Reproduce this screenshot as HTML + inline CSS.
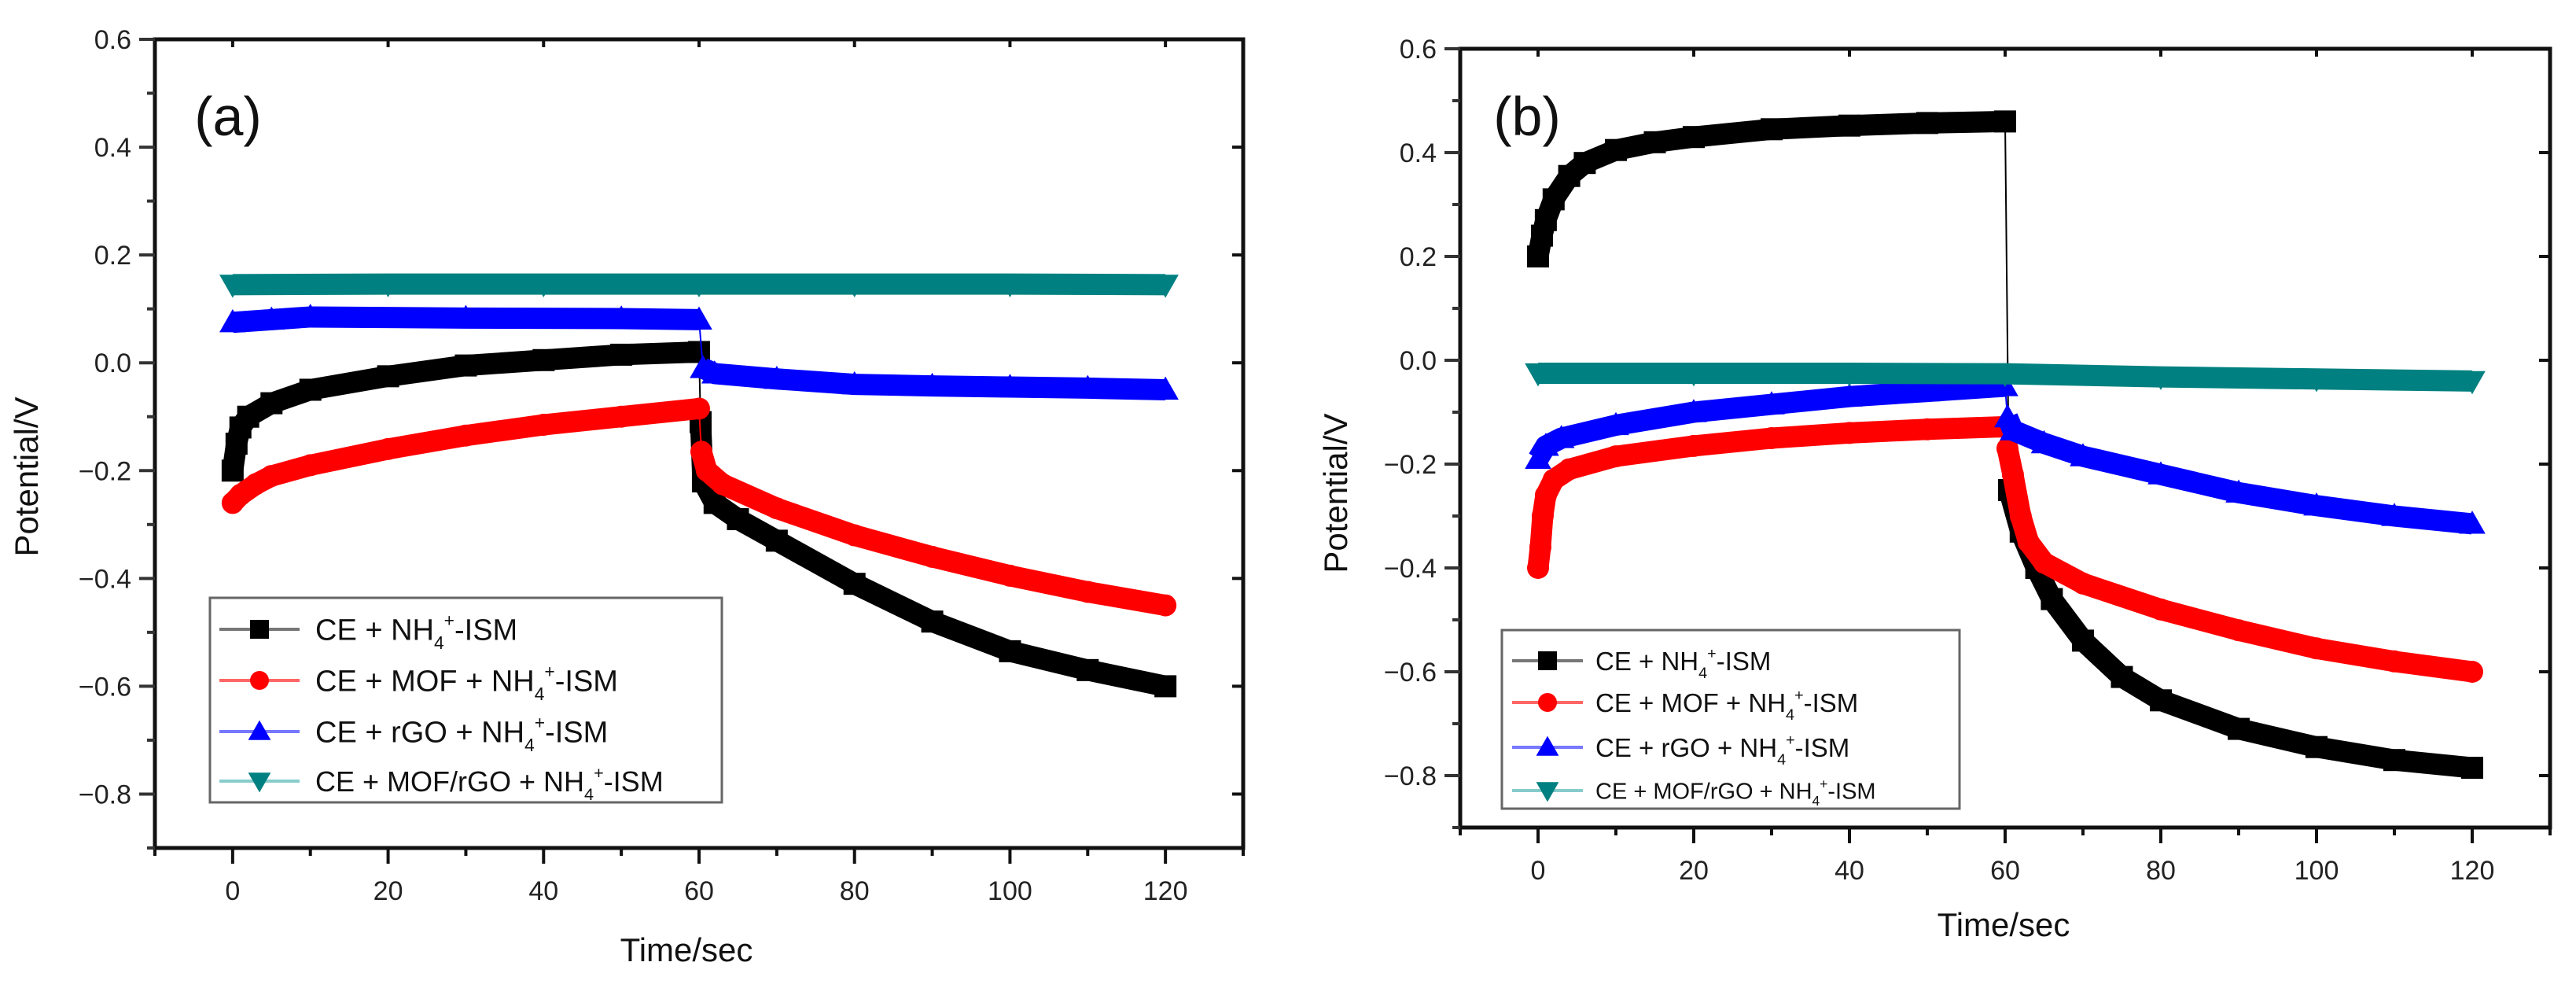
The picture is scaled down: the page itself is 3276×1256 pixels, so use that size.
<!DOCTYPE html>
<html><head><meta charset="utf-8"><style>
html,body{margin:0;padding:0;background:#fff;}
svg{display:block;font-family:"Liberation Sans",Arial,sans-serif;}
</style></head><body>
<svg id="fig" width="3276" height="1256" viewBox="0 0 3276 1256" xmlns="http://www.w3.org/2000/svg"></svg>
<script>
// ---------- data ----------
const xTicks = [0,20,40,60,80,100,120];
const yTicks = [0.6,0.4,0.2,0.0,-0.2,-0.4,-0.6,-0.8];
const yTickLabels = ["0.6","0.4","0.2","0.0","\u22120.2","\u22120.4","\u22120.6","\u22120.8"];
const seriesNames = ["CE + NH4+-ISM","CE + MOF + NH4+-ISM","CE + rGO + NH4+-ISM","CE + MOF/rGO + NH4+-ISM"];

// panel (a)
const aBlackT = [0,0.5,1,2,5,10,20,30,40,50,60,60.2,60.5,62,65,70,80,90,100,110,120];
const aBlackV = [-0.20,-0.15,-0.12,-0.10,-0.075,-0.05,-0.025,-0.005,0.005,0.015,0.02,-0.11,-0.22,-0.26,-0.29,-0.33,-0.41,-0.48,-0.535,-0.57,-0.60];
const aRedT = [0,1,3,5,10,20,30,40,50,60,60.3,61,63,70,80,90,100,110,120];
const aRedV = [-0.26,-0.245,-0.225,-0.21,-0.19,-0.16,-0.135,-0.115,-0.10,-0.085,-0.165,-0.20,-0.225,-0.27,-0.32,-0.36,-0.395,-0.425,-0.45];
const aBlueT = [0,5,10,30,50,60,60.5,62,70,80,90,100,110,120];
const aBlueV = [0.075,0.08,0.085,0.083,0.082,0.08,-0.01,-0.02,-0.03,-0.04,-0.043,-0.045,-0.047,-0.05];
const aTealT = [0,20,40,60,80,100,120];
const aTealV = [0.145,0.146,0.146,0.146,0.146,0.146,0.145];

// panel (b)
const bBlackT = [0,0.5,1,2,4,6,10,15,20,30,40,50,60,60.5,62,64,66,70,75,80,90,100,110,120];
const bBlackV = [0.20,0.24,0.27,0.31,0.355,0.38,0.405,0.42,0.43,0.445,0.452,0.457,0.46,-0.25,-0.33,-0.40,-0.46,-0.54,-0.61,-0.655,-0.71,-0.745,-0.77,-0.785];
const bRedT = [0,0.3,0.6,1,2,4,10,20,30,40,50,60,60.3,61,62,63,65,70,80,90,100,110,120];
const bRedV = [-0.40,-0.36,-0.30,-0.26,-0.23,-0.21,-0.185,-0.165,-0.15,-0.14,-0.133,-0.128,-0.17,-0.22,-0.30,-0.35,-0.39,-0.43,-0.48,-0.52,-0.555,-0.58,-0.60];
const bBlueT = [0,1,3,10,20,30,40,50,60,60.3,61,65,70,80,90,100,110,120];
const bBlueV = [-0.19,-0.165,-0.15,-0.125,-0.10,-0.085,-0.07,-0.06,-0.05,-0.11,-0.135,-0.16,-0.185,-0.22,-0.255,-0.28,-0.30,-0.315];
const bTealT = [0,20,40,60,80,100,120];
const bTealV = [-0.025,-0.025,-0.025,-0.026,-0.032,-0.036,-0.04];

const NS = "http://www.w3.org/2000/svg";
const svg = document.getElementById('fig');
function mk(tag, attrs, parent){const e=document.createElementNS(NS,tag);for(const k in attrs)e.setAttribute(k,attrs[k]);(parent||svg).appendChild(e);return e;}

const colors = ["#000000","#ff0000","#0000ff","#008080"];
const lineColors = ["#777777","#ff6666","#7777ff","#88cccc"];
const kinds = ["square","circle","up","down"];

function marker(g,kind,x,y,s,c){
  let e;
  if(kind==="square") e=mk('rect',{x:x-s/2,y:y-s/2,width:s,height:s,fill:c},g);
  else if(kind==="circle") e=mk('circle',{cx:x,cy:y,r:s/2,fill:c},g);
  else if(kind==="up") e=mk('polygon',{points:`${x},${y-s*0.6} ${x-s*0.6},${y+s*0.45} ${x+s*0.6},${y+s*0.45}`,fill:c},g);
  else e=mk('polygon',{points:`${x},${y+s*0.6} ${x-s*0.6},${y-s*0.45} ${x+s*0.6},${y-s*0.45}`,fill:c},g);
  return e;
}

function labelText(parent,x,y,size,name){
  const t=mk('text',{x:x,y:y,'font-size':size,fill:'#111'},parent);
  const i=name.indexOf("NH4+");
  const pre=name.slice(0,i+2), post=name.slice(i+4);
  const a=mk('tspan',{},t);a.textContent=pre;
  const s=mk('tspan',{dy:size*0.3,'font-size':size*0.6},t);s.textContent="4";
  const p=mk('tspan',{dy:-size*0.75,'font-size':size*0.6},t);p.textContent="+";
  const r=mk('tspan',{dy:size*0.45},t);r.textContent=post;
  return t;
}

function panel(cfg){
  const {L,R,T,B,id,data,legend,tag,tagPos,ylabPos,xlabPos} = cfg;
  const g=mk('g',{});
  
  
  const xs=v=>L+(v+10)/140*(R-L);
  const ys=v=>T+(0.6-v)/1.5*(B-T);
  const sg=mk('g',{},g);
  
  
  data.forEach((d,si)=>{
    const [ts,vs]=d;
    const c=colors[si];
    const ser=mk('g',{},sg);
    
    
    mk('polyline',{points:ts.map((t,i)=>xs(t)+','+ys(vs[i])).join(' '),fill:'none',stroke:c,'stroke-width':2},ser);
    // thick band, split only at the step (jump just after 60 s)
    const segs=[[]];
    ts.forEach((t,i)=>{
      if(i>0 && ts[i-1]<=60 && t>60 && t<61) segs.push([]);
      segs[segs.length-1].push(xs(t)+','+ys(vs[i]));
    });
    segs.forEach(sgm=>{ if(sgm.length>1) mk('polyline',{points:sgm.join(' '),fill:'none',stroke:c,'stroke-width':27,'stroke-linejoin':'round'},ser);});
    ts.forEach((t,i)=>{
      const m=marker(ser,kinds[si],xs(t),ys(vs[i]),28,c);
      
      
    });
  });
  const fr=mk('rect',{x:L,y:T,width:R-L,height:B-T,fill:'none',stroke:'#111','stroke-width':5},g);
  
  
  for(let v=-10;v<=130;v+=10){
    const major=xTicks.includes(v);
    const x=xs(v);
    mk('line',{x1:x,y1:B,x2:x,y2:B+(major?20:10),stroke:'#111','stroke-width':4},g);
    mk('line',{x1:x,y1:T,x2:x,y2:T+(major?10:0),stroke:'#111','stroke-width':4},g);
  }
  xTicks.forEach(v=>{
    const t=mk('text',{x:xs(v),y:B+66,'font-size':34,'text-anchor':'middle',fill:'#222'},g);
    t.textContent=v;
    
    
  });
  for(let k=0;k<=15;k++){
    const v=0.6-k*0.1;
    const major=k%2===0 && k<15;
    const y=ys(v);
    mk('line',{x1:L,y1:y,x2:L-(major?20:10),y2:y,stroke:'#333','stroke-width':4},g);
    mk('line',{x1:R,y1:y,x2:R-(major?14:0),y2:y,stroke:'#111','stroke-width':4},g);
  }
  yTicks.forEach((v,i)=>{
    const t=mk('text',{x:L-30,y:ys(v)+12,'font-size':34,'text-anchor':'end',fill:'#222'},g);
    t.textContent=yTickLabels[i];
    
    
  });
  const yt=mk('text',{x:ylabPos[0],y:ylabPos[1],'font-size':42,'text-anchor':'middle',fill:'#111',transform:`rotate(-90 ${ylabPos[0]} ${ylabPos[1]})`},g);
  yt.textContent="Potential/V";
  
  
  const xt=mk('text',{x:xlabPos[0],y:xlabPos[1],'font-size':42,'text-anchor':'middle',fill:'#111'},g);
  xt.textContent="Time/sec";
  
  
  const tg=mk('text',{x:tagPos[0],y:tagPos[1],'font-size':70,'text-anchor':'middle',fill:'#111'},g);
  tg.textContent=tag;
  
  
  const lg=mk('g',{},g);
  
  
  mk('rect',{x:legend.x,y:legend.y,width:legend.w,height:legend.h,fill:'#fff',stroke:'#666','stroke-width':3},lg);
  seriesNames.forEach((n,i)=>{
    const e=mk('g',{},lg);
    
    
    const cy=legend.rows[i];
    mk('line',{x1:legend.l1,y1:cy,x2:legend.l2,y2:cy,stroke:lineColors[i],'stroke-width':4},e);
    marker(e,kinds[i],(legend.l1+legend.l2)/2,cy,24,colors[i]);
    labelText(e,legend.tx,cy+legend.fs[i]*0.36,legend.fs[i],n);
  });
}

panel({id:'a',L:197,R:1581,T:50,B:1078,tag:'(a)',tagPos:[290,172],ylabPos:[48,606],xlabPos:[873,1222],
  data:[[aBlackT,aBlackV],[aRedT,aRedV],[aBlueT,aBlueV],[aTealT,aTealV]],
  legend:{x:267,y:760,w:651,h:260,rows:[800,865,930,993],l1:279,l2:381,tx:401,fs:[38,38,38,36]}});
panel({id:'b',L:1857,R:3243,T:62,B:1052,tag:'(b)',tagPos:[1942,172],ylabPos:[1713,627],xlabPos:[2548,1190],
  data:[[bBlackT,bBlackV],[bRedT,bRedV],[bBlueT,bBlueV],[bTealT,bTealV]],
  legend:{x:1910,y:801,w:582,h:227,rows:[840,893,950,1005],l1:1923,l2:2013,tx:2029,fs:[33,33,33,29]}});
</script>
</body></html>
